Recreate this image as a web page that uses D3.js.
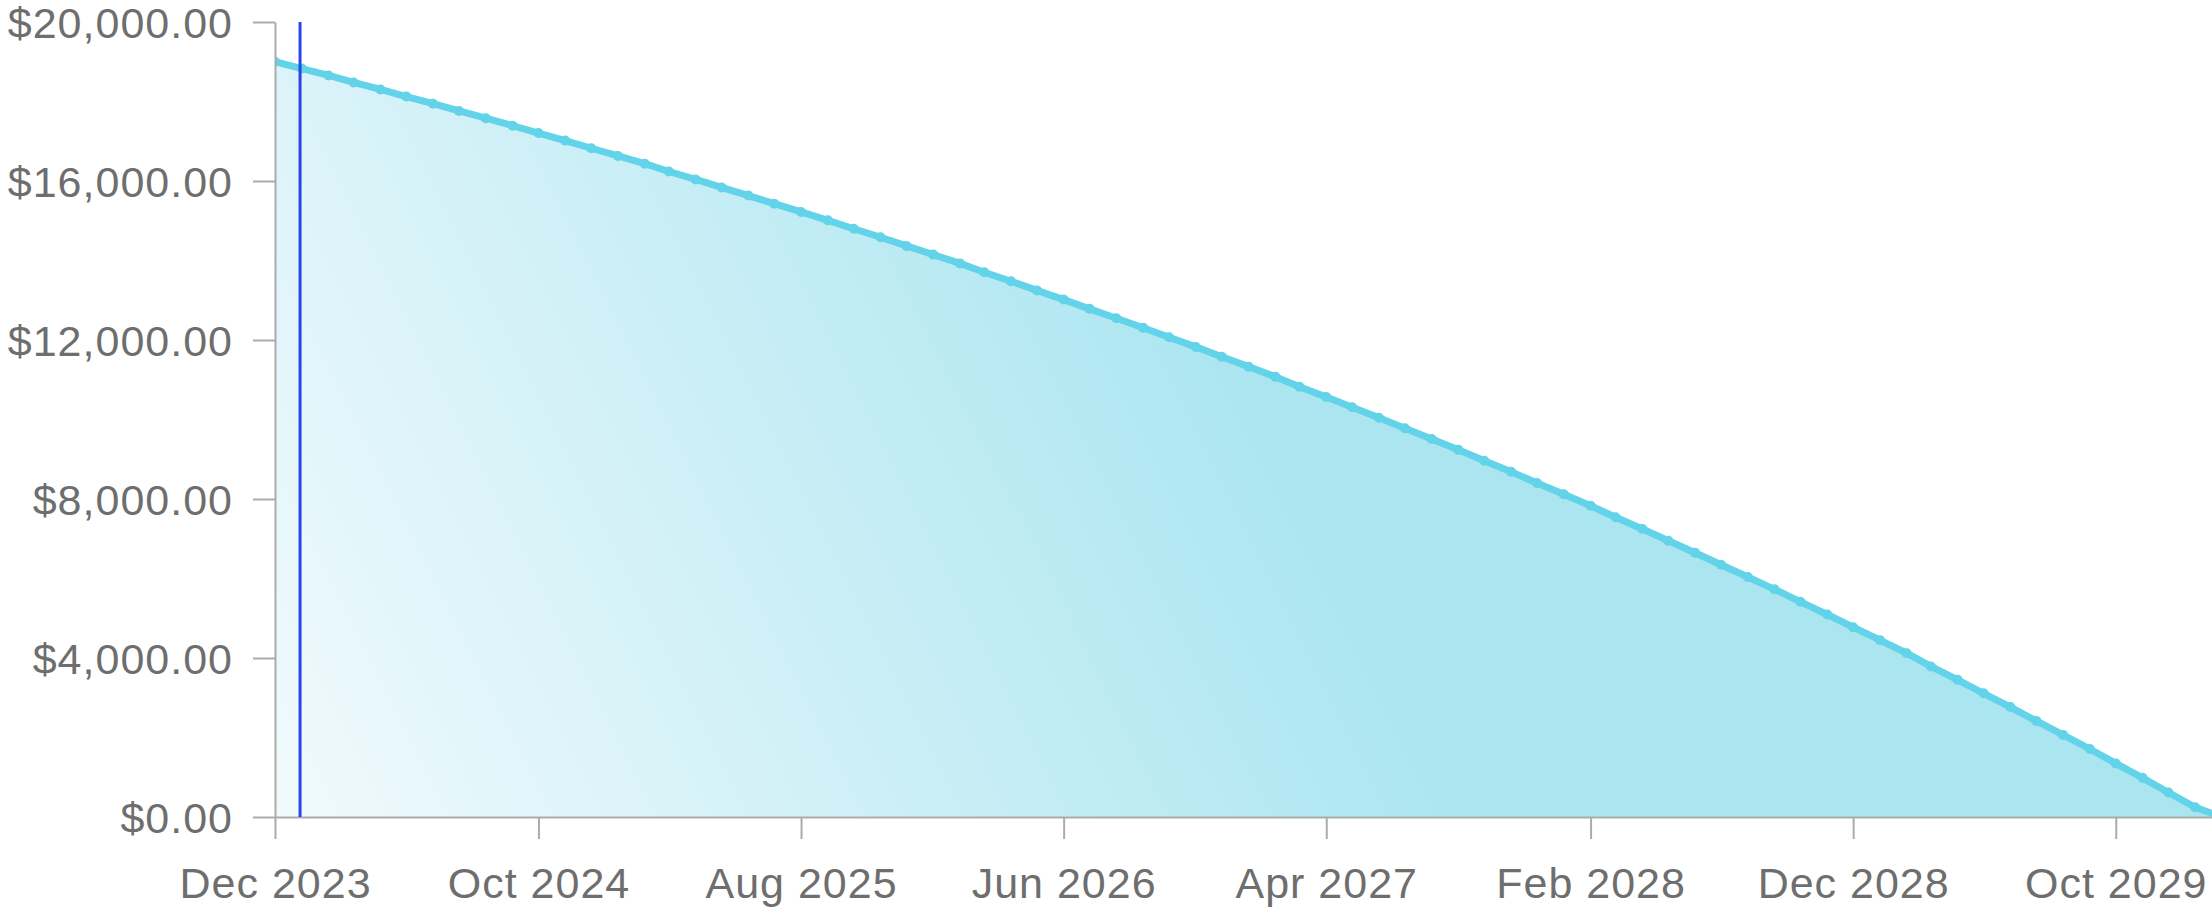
<!DOCTYPE html>
<html>
<head>
<meta charset="utf-8">
<script src="https://cdn.jsdelivr.net/npm/d3@7"></script>
<style>
  html, body { margin: 0; padding: 0; background: #fff; overflow: hidden; }
  .axis text { font-family: "Liberation Sans", Arial, sans-serif; font-size: 43px; letter-spacing: 1px; fill: #6e6e6e; }
  .axis path, .axis line { stroke: #ababab; stroke-width: 2px; }
</style>
</head>
<body>
<script>
// remaining balance per month, starting Dec 2023
const firstMonth = "2023-12";
const balance = [
  19000, 18828, 18655, 18480, 18303, 18125, 17944, 17762, 17579, 17393,
  17206, 17016, 16824, 16631, 16436, 16239, 16039, 15838, 15634, 15429,
  15221, 15011, 14799, 14584, 14367, 14148, 13927, 13703, 13477, 13248,
  13017, 12784, 12548, 12310, 12069, 11826, 11579, 11330, 11078, 10824,
  10566, 10306, 10043, 9778, 9508, 9236, 8962, 8684, 8403, 8119,
  7831, 7541, 7247, 6950, 6649, 6346, 6038, 5728, 5413, 5095,
  4774, 4449, 4120, 3788, 3452, 3111, 2767, 2418, 2066, 1710,
  1349, 985, 616, 243, 0
];
const xTickLabels = ["2023-12", "2024-10", "2025-08", "2026-06", "2027-04", "2028-02", "2028-12", "2029-10"];
const yTicks = [0, 4000, 8000, 12000, 16000, 20000];
const todayMarker = "2023-12-30";

function draw() {
  const width = 2212;
  const height = 908;
  const parse = d3.timeParse("%Y-%m");

  const start = parse(firstMonth);
  const data = balance.map((v, i) => ({ date: d3.timeMonth.offset(start, i), value: v }));

  const svg = d3.select("body").append("svg")
    .attr("width", width)
    .attr("height", height);

  const x = d3.scaleTime()
    .domain([data[0].date, data[data.length - 1].date])
    .range([275, 2222]);

  const y = d3.scaleLinear()
    .domain([0, 20000])
    .range([817, 22]);

  const defs = svg.append("defs");
  const grad = defs.append("linearGradient")
    .attr("id", "fillGrad")
    .attr("gradientUnits", "userSpaceOnUse")
    .attr("x1", 275).attr("y1", 817)
    .attr("x2", 1250).attr("y2", 330);
  grad.append("stop").attr("offset", "0%").attr("stop-color", "#f1fafd");
  grad.append("stop").attr("offset", "100%").attr("stop-color", "#aae5f0");

  const clip = defs.append("clipPath").attr("id", "plotClip");
  clip.append("rect").attr("x", 275).attr("y", 0).attr("width", width - 275).attr("height", 818);

  const plot = svg.append("g").attr("clip-path", "url(#plotClip)");

  const area = d3.area()
    .x(d => x(d.date))
    .y0(y(0))
    .y1(d => y(d.value));

  const line = d3.line()
    .x(d => x(d.date))
    .y(d => y(d.value));

  plot.append("path")
    .datum(data)
    .attr("fill", "url(#fillGrad)")
    .attr("d", area);

  // x axis
  svg.append("g")
    .attr("class", "axis")
    .attr("transform", "translate(0," + y(0) + ")")
    .call(d3.axisBottom(x)
      .tickValues(xTickLabels.map(parse))
      .tickFormat(d3.timeFormat("%b %Y"))
      .tickSize(22)
      .tickSizeOuter(0)
      .tickPadding(28));

  // y axis
  const yAxis = svg.append("g")
    .attr("class", "axis")
    .attr("transform", "translate(275,0)")
    .call(d3.axisLeft(y)
      .tickValues(yTicks)
      .tickFormat(d3.format("$,.2f"))
      .tickSize(22)
      .tickSizeOuter(0)
      .tickPadding(20));
  yAxis.selectAll("text").attr("dy", "0.37em");

  plot.append("path")
    .datum(data)
    .attr("fill", "none")
    .attr("stroke", "#62d3e9")
    .attr("stroke-width", 7)
    .attr("d", line);

  plot.selectAll("circle.pt")
    .data(data)
    .enter()
    .append("circle")
    .attr("class", "pt")
    .attr("cx", d => x(d.date))
    .attr("cy", d => y(d.value))
    .attr("r", 5)
    .attr("fill", "#62d3e9");

  const tx = x(d3.timeParse("%Y-%m-%d")(todayMarker));
  svg.append("line")
    .attr("x1", tx).attr("x2", tx)
    .attr("y1", y(20000)).attr("y2", y(0))
    .attr("stroke", "#2a44e6")
    .attr("stroke-width", 3);
}
window.onload = draw;
</script>
</body>
</html>
